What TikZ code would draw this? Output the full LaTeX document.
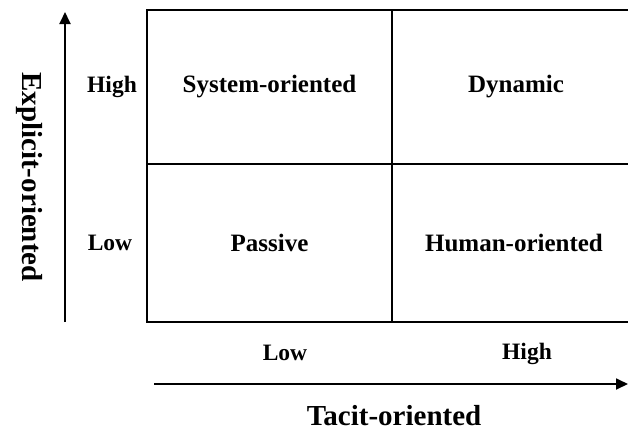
\documentclass[tikz,border=0pt]{standalone}
\usepackage{fontspec}
\setmainfont{Liberation Serif}
\usetikzlibrary{arrows.meta}
\begin{document}
\begin{tikzpicture}[x=1pt,y=-1pt,
  cell/.style={font=\fontsize{25}{29}\selectfont\bfseries},
  level/.style={font=\fontsize{23.5}{27}\selectfont\bfseries},
  axistitle/.style={font=\fontsize{29}{33}\selectfont\bfseries},
  frame/.style={line width=2pt},
  divider/.style={line width=1.3pt},
  axisline/.style={line width=1.8pt,-{Triangle[length=12pt,width=11pt]}}]
\clip (0,0) rectangle (628,431);
\fill[white] (0,0) rectangle (628,431);

% quadrant grid (right border runs past the page edge)
\draw[frame] (147,10) rectangle (645,322);
\draw[divider] (392,10) -- (392,322);
\draw[divider] (147,164) -- (645,164);

% quadrant names
\node[cell] (sys) at (269.5,87) {System-oriented};
\node[cell] (dyn) at (516,87) {Dynamic};
\node[cell] (pas) at (269.5,243) {Passive};
\node[cell] (hum) at (514,243) {Human-oriented};

% levels along the vertical axis
\node[level] (vhigh) at (112,87) {High};
\node[level] (vlow) at (110,243) {Low};

% levels along the horizontal axis
\node[level] (hlow) at (285,353) {Low};
\node[level] (hhigh) at (527,354) {High};

% axes
\coordinate (vstart) at (65,322);
\coordinate (vend) at (65,12);
\coordinate (hstart) at (154,384);
\coordinate (hend) at (628,384);
\draw[axisline] (vstart) -- (vend);
\draw[axisline] (hstart) -- (hend);

\node[axistitle, rotate=-90] (ytitle) at (29,177) {Explicit-oriented};
\node[axistitle, anchor=base] (xtitle) at (394,425) {Tacit-oriented};
\end{tikzpicture}
\end{document}
